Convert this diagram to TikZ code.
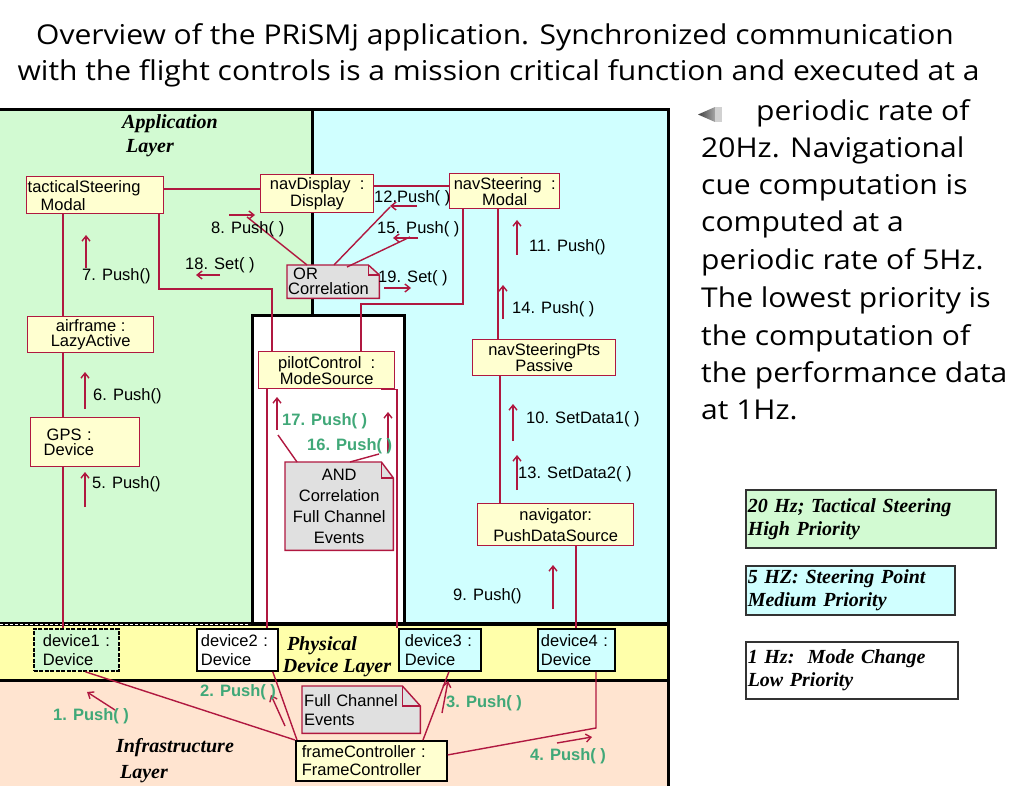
\documentclass[tikz,border=0pt]{standalone}
\usepackage{fontspec}
\setmainfont{Liberation Sans}
\newfontfamily\prosefont{Open Sans}[FakeStretch=1.1]
\newfontfamily\layerfont{Liberation Serif}
\usetikzlibrary{arrows.meta}
\pgfdeclarelayer{regions}
\pgfdeclarelayer{notes}
\pgfsetlayers{regions,notes,main}

\newcommand\fsz[2]{\fontsize{#1}{#2}\selectfont}

\definecolor{crim}{RGB}{176,24,64}
\definecolor{appgreen}{RGB}{210,250,210}
\definecolor{navcyan}{RGB}{208,255,255}
\definecolor{devyellow}{RGB}{255,255,170}
\definecolor{infpeach}{RGB}{255,228,208}
\definecolor{objfill}{RGB}{255,255,208}
\definecolor{notegray}{RGB}{224,224,224}
\definecolor{msggreen}{RGB}{64,168,120}

\begin{document}
\begin{tikzpicture}[x=1pt,y=-1pt,
  obj/.style={draw=crim, line width=1.4pt, fill=objfill, anchor=north west,
    inner ysep=0pt, inner xsep=1pt, align=center},
  dev/.style={draw=black, line width=1.8pt, anchor=north west,
    inner ysep=0pt, align=left, font=\fsz{16.5}{19}},
  note/.style={anchor=north west, inner ysep=0pt, inner xsep=1pt},
  notebox/.style={draw=crim, line width=1.4pt, fill=notegray},
  link/.style={draw=crim, line width=1.4pt},
  msg/.style={draw=crim, line width=1.4pt, -{Straight Barb[length=5pt,width=8pt,line width=1.4pt]}},
  lbl/.style={anchor=base west, inner sep=0pt, font=\fsz{16.5}{19}},
  glbl/.style={anchor=base west, inner sep=0pt, text=msggreen, font=\fsz{16.5}{19}\bfseries},
  layer/.style={anchor=base, inner sep=0pt, font=\layerfont\fsz{20}{23}\bfseries\itshape},
  prose/.style={inner sep=0pt, font=\prosefont\fsz{27.3}{32}},
  legend/.style={draw=black!80, line width=1.5pt, anchor=north west, inner ysep=0pt,
    inner xsep=2pt, align=left, font=\layerfont\fsz{20}{23}\bfseries\itshape}
]
\useasboundingbox (0,0) rectangle (1009,786);

% ---------- layer regions ----------
\begin{pgfonlayer}{regions}
  \fill[appgreen] (0,110) rectangle (312,624);
  \fill[navcyan] (312,110) rectangle (668,624);
  \fill[white] (252,315) rectangle (404,624);
  \fill[devyellow] (0,624) rectangle (668,680);
  \fill[infpeach] (0,680) rectangle (668,786);
  \draw[line width=3pt] (0,110) -- (669.5,110);
  \draw[line width=3pt] (312,110) -- (312,315);
  \draw[line width=3pt] (252,624) -- (252,315) -- (404,315) -- (404,624);
  \draw[line width=3pt] (668,110) -- (668,786);
  \draw[line width=4pt] (0,624) -- (668,624);
  \draw[white, line width=0.8pt, dash pattern=on 3pt off 2pt] (0,624) -- (250,624);
  \draw[line width=3pt] (0,680) -- (668,680);
\end{pgfonlayer}

% ---------- layer titles ----------
\node[layer] (applbl) at (170,129) {Application};
\node[layer] (applbl2) at (150,153) {Layer};
\node[layer] (physlbl) at (322,650) {Physical};
\node[layer] (physlbl2) at (337,672) {Device Layer};
\node[layer] (inflbl) at (175,752) {Infrastructure};
\node[layer] (inflbl2) at (144,778) {Layer};

% ---------- objects ----------
\node[obj, minimum width=137pt, minimum height=37pt, text width=135pt, align=left,
  font=\fsz{16.5}{18}] (tac) at (26,176) {tacticalSteering\\\hspace*{13pt}Modal};
\node[obj, minimum width=113pt, minimum height=38pt, font=\fsz{16.5}{17}]
  (navd) at (260,174) {navDisplay\ \ :\\Display};
\node[obj, minimum width=110pt, minimum height=35pt, font=\fsz{16.5}{16}]
  (navs) at (449,173) {navSteering\ \ :\\Modal};
\node[obj, minimum width=126pt, minimum height=36pt, font=\fsz{16.5}{15}]
  (air) at (27,316) {airframe :\\LazyActive};
\node[obj, minimum width=109pt, minimum height=49pt, inner xsep=13pt, text width=83pt,
  align=left, font=\fsz{16.5}{15}] (gps) at (30,417) {\hspace*{3pt}GPS :\\Device};
\node[obj, minimum width=136pt, minimum height=37pt, font=\fsz{16.5}{16}]
  (pc) at (258,351) {pilotControl\ \ :\\ModeSource};
\node[obj, minimum width=143pt, minimum height=36pt, font=\fsz{16.5}{13}]
  (nsp) at (472,339) {navSteeringPts\\Passive};
\node[obj, minimum width=156pt, minimum height=42pt, font=\fsz{16.5}{21}]
  (nav) at (477,503) {navigator:\\PushDataSource};

% correlation notes (outline drawn on the notes layer)
\node[note, minimum width=92pt, minimum height=33pt, text width=90pt, align=left,
  font=\fsz{16.5}{15}] (orc) at (287,265) {\hspace*{5pt}OR\\Correlation};
\node[note, minimum width=108pt, minimum height=88pt, align=center,
  font=\fsz{16.5}{21}] (andn) at (285,462) {AND\\Correlation\\Full Channel\\Events};
\node[note, minimum width=118pt, minimum height=47pt, inner xsep=2pt, text width=114pt,
  align=left, font=\fsz{16.5}{19}] (fcn) at (302,686) {Full Channel\\Events};

\begin{pgfonlayer}{notes}
  \foreach \n/\fx/\fy in {orc/11/10, andn/12/16, fcn/18/20}{
    \filldraw[notebox] (\n.south west) -- (\n.north west) -- ([xshift=-\fx pt]\n.north east)
      -- ([yshift=-\fy pt]\n.north east) -- (\n.south east) -- cycle;
    \draw[notebox, fill=none] ([xshift=-\fx pt]\n.north east)
      -- ([xshift=-\fx pt, yshift=-\fy pt]\n.north east) -- ([yshift=-\fy pt]\n.north east);
  }
\end{pgfonlayer}

% ---------- physical devices ----------
\node[dev, fill=appgreen, dash pattern=on 4pt off 1.5pt, minimum width=85pt, minimum height=42pt,
  inner xsep=9pt, text width=67pt] (dev1) at (33,628) {device1 :\\Device};
\node[dev, fill=white, minimum width=81pt, minimum height=42pt, inner xsep=4pt, text width=73pt]
  (dev2) at (196,628) {device2 :\\Device};
\node[dev, fill=navcyan, minimum width=82pt, minimum height=42pt, inner xsep=6pt, text width=70pt]
  (dev3) at (398,628) {device3 :\\Device};
\node[dev, fill=navcyan, minimum width=77pt, minimum height=42pt, inner xsep=3pt, text width=71pt]
  (dev4) at (537,628) {device4 :\\Device};
\node[dev, fill=objfill, minimum width=151pt, minimum height=40pt, inner xsep=6pt, text width=139pt,
  font=\fsz{16.5}{18}] (fc) at (295,740) {frameController :\\FrameController};

% ---------- links ----------
\coordinate (y189) at (0,189);
\coordinate (y186) at (0,186);
\draw[link] (tac.east |- y189) -- (navd.west |- y189);
\draw[link] (navd.east |- y186) -- (navs.west |- y186);
\coordinate (vx63) at (63,0);
\draw[link] (tac.south -| vx63) -- (air.north -| vx63);
\draw[link] (air.south -| vx63) -- (gps.north -| vx63);
\draw[link] (gps.south -| vx63) -- (dev1.north -| vx63);
\coordinate (k1) at (159,289);
\coordinate (k2) at (272,289);
\draw[link] (tac.south -| k1) -- (k1) -- (k2) -- (pc.north -| k2);
\coordinate (k3) at (463,304);
\coordinate (k4) at (361,304);
\draw[link] (navs.south -| k3) -- (k3) -- (k4) -- (pc.north -| k4);
\coordinate (vx498) at (498,0);
\draw[link] (navs.south -| vx498) -- (nsp.north -| vx498);
\coordinate (vx500) at (500,0);
\draw[link] (nsp.south -| vx500) -- (nav.north -| vx500);
\coordinate (vx576) at (576,0);
\draw[link] (nav.south -| vx576) -- (dev4.north -| vx576);
\coordinate (vx267) at (267,0);
\draw[link] (pc.south -| vx267) -- (dev2.north -| vx267);
\coordinate (vx397) at (397,0);
\draw[link] ([xshift=-14pt]pc.south east) -- (pc.south -| vx397) -- (dev3.north -| vx397);

% correlation note links
\coordinate (o8) at (247,217);
\coordinate (o12) at (390,207);
\coordinate (o15) at (410,237);
\draw[link] ([xshift=20pt]orc.north west) -- (o8);
\draw[link] ([xshift=47pt]orc.north west) -- (o12);
\draw[link] ([xshift=60pt,yshift=-2pt]orc.north west) -- (o15);
\coordinate (a17) at (278,435);
\coordinate (a16) at (379,454);
\draw[link] ([xshift=12pt]andn.north west) -- (a17);
\draw[link] ([xshift=65pt]andn.north west) -- (a16);

% infrastructure links
\draw[link] ([xshift=9pt]dev1.south) -- (fc.north west);
\draw[link] ([xshift=-6pt]dev2.south east) -- ([xshift=2pt]fc.north west);
\draw[link] ([xshift=128pt]fc.north west) -- ([xshift=9pt]dev3.south);
\coordinate (b4) at (596,728);
\draw[link] ([yshift=6pt]fc.east) -- (b4) -- (dev4.south -| b4);

% ---------- messages ----------
\draw[msg] (229,215) -- (255,215);
\draw[msg] (220,275) -- (196,275);
\draw[msg] (86,268) -- (86,235);
\draw[msg] (417,206) -- (390,206);
\draw[msg] (418,238) -- (393,238);
\draw[msg] (384,288) -- (411,288);
\draw[msg] (517,255) -- (517,220);
\draw[msg] (503,319) -- (503,285);
\draw[msg] (85,409) -- (85,372);
\draw[msg] (85,507) -- (85,472);
\draw[msg] (513,441) -- (513,404);
\draw[msg] (517,490) -- (517,455);
\draw[msg] (553,609) -- (553,565);
\draw[msg] (277,430) -- (277,397);
\draw[msg] (388,453) -- (388,412);
\draw[msg] (115,710) -- (87,692);
\draw[msg] (285,726) -- (271,695);
\draw[msg] (442,713) -- (448,681);
\draw[msg] (557,743) -- (592,737);

\node[lbl] (m8) at (211,234) {8. Push( )};
\node[lbl] (m18) at (185,270) {18. Set( )};
\node[lbl] (m7) at (82,281) {7. Push()};
\node[lbl] (m12) at (374,203) {12.Push( )};
\node[lbl] (m15) at (377,234) {15. Push( )};
\node[lbl] (m19) at (378,283) {19. Set( )};
\node[lbl] (m11) at (529,252) {11. Push()};
\node[lbl] (m14) at (512,313) {14. Push( )};
\node[lbl] (m6) at (93,400) {6. Push()};
\node[lbl] (m5) at (92,488) {5. Push()};
\node[lbl] (m10) at (526,423) {10. SetData1( )};
\node[lbl] (m13) at (518,478) {13. SetData2( )};
\node[lbl] (m9) at (453,600) {9. Push()};
\node[glbl] (m17) at (282,425) {17. Push( )};
\node[glbl] (m16) at (307,450) {16. Push( )};
\node[glbl] (m1) at (53,720) {1. Push( )};
\node[glbl] (m2) at (200,696) {2. Push( )};
\node[glbl] (m3) at (446,707) {3. Push( )};
\node[glbl] (m4) at (530,760) {4. Push( )};

% ---------- caption text ----------
\node[prose, anchor=base] (t1) at (495,45) {Overview of the PRiSMj application. Synchronized communication};
\node[prose, anchor=base] (t2) at (498.5,81) {with the flight controls is a mission critical function and executed at a};
\shade[left color=black!75, right color=black!35] (698,114.5) -- (715,107) -- (715,122) -- cycle;
\fill[black!18] (715,107) rectangle (722,122);
\node[prose, anchor=base west] (p1) at (756,121) {periodic rate of};
\node[prose, anchor=base west] (p2) at (701,158) {20Hz. Navigational};
\node[prose, anchor=base west] (p3) at (701,195) {cue computation is};
\node[prose, anchor=base west] (p4) at (701,232) {computed at a};
\node[prose, anchor=base west] (p5) at (701,270) {periodic rate of 5Hz.};
\node[prose, anchor=base west] (p6) at (701,307) {The lowest priority is};
\node[prose, anchor=base west] (p7) at (701,345) {the computation of};
\node[prose, anchor=base west] (p8) at (701,382) {the performance data};
\node[prose, anchor=base west] (p9) at (701,419) {at 1Hz.};

% ---------- priority legend ----------
\node[legend, fill=appgreen, minimum width=250pt, minimum height=58pt, text width=246pt]
  (lg1) at (745,489) {20 Hz; Tactical Steering\\High Priority};
\node[legend, fill=navcyan, minimum width=209pt, minimum height=49pt, text width=205pt]
  (lg2) at (745,565) {5 HZ: Steering Point\\Medium Priority};
\node[legend, fill=white, minimum width=212pt, minimum height=57pt, text width=208pt]
  (lg3) at (745,641) {1 Hz:\ \ Mode Change\\Low Priority};
\end{tikzpicture}
\end{document}
